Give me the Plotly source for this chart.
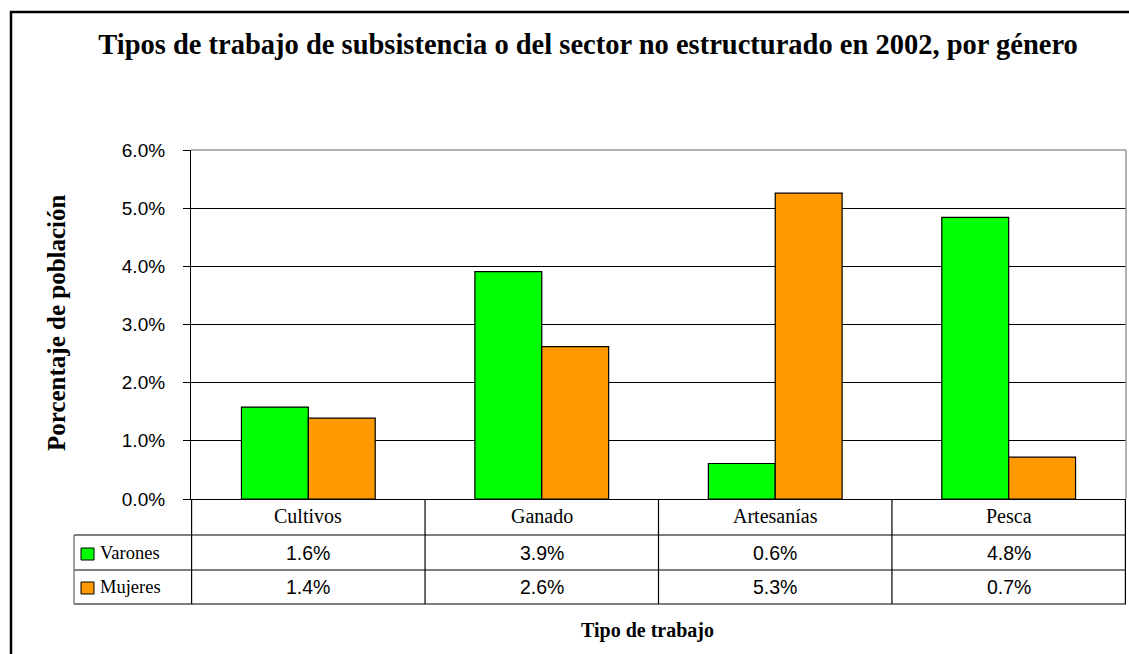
import plotly.graph_objects as go

# data
categories = ["Cultivos", "Ganado", "Artesanías", "Pesca"]
series_names = ["Varones", "Mujeres"]
varones = [0.0158, 0.0391, 0.0061, 0.0484]
mujeres = [0.0139, 0.0262, 0.0526, 0.0072]
series_colors = ["#00FF00", "#FF9900"]
y_ticks = [0.0, 0.01, 0.02, 0.03, 0.04, 0.05, 0.06]

title_text = "Tipos de trabajo de subsistencia o del sector no estructurado en 2002, por género"
x_title = "Tipo de trabajo"
y_title = "Porcentaje de población"

SERIF = "Liberation Serif, Times New Roman, serif"
SANS = "Liberation Sans, Arial, sans-serif"

W, H = 1129, 654
PLOT_L, PLOT_R, PLOT_T, PLOT_B = 191, 1126, 150, 499  # pixels in the window
L, T = PLOT_L, PLOT_T
R = W - PLOT_R
B = H - PLOT_B
PW = PLOT_R - PLOT_L
PH = PLOT_B - PLOT_T


def px_x(px):
    return (px - PLOT_L) / PW


def px_y(py):
    return (PLOT_B - py) / PH


fig = go.Figure()

for name, vals, color in zip(series_names, [varones, mujeres], series_colors):
    fig.add_trace(
        go.Bar(
            x=categories,
            y=vals,
            name=name,
            marker=dict(color=color, line=dict(color="black", width=1.2)),
            hovertemplate="%{x}<br>" + name + ": %{y:.1%}<extra></extra>",
        )
    )

shapes = []
annotations = []
line_k = dict(color="black", width=1.2)

# table grid below the plot
row1, row2, table_bot = 535, 570, 604
left_px = 74
for py in [row1, row2, table_bot]:
    shapes.append(dict(type="line", xref="paper", yref="paper",
                       x0=px_x(left_px), x1=1, y0=px_y(py), y1=px_y(py), line=line_k))
for i in range(len(categories) + 1):
    shapes.append(dict(type="line", xref="x", yref="paper",
                       x0=i - 0.5, x1=i - 0.5, y0=0, y1=px_y(table_bot), line=line_k))
shapes.append(dict(type="line", xref="paper", yref="paper",
                   x0=px_x(left_px), x1=px_x(left_px), y0=px_y(row1), y1=px_y(table_bot),
                   line=dict(color="#808080", width=1.5)))

# grey top and right plot borders
shapes.append(dict(type="line", xref="paper", yref="paper", x0=0, x1=1, y0=1, y1=1,
                   line=dict(color="#999999", width=1.5)))
shapes.append(dict(type="line", xref="paper", yref="paper", x0=1, x1=1, y0=0, y1=1,
                   line=dict(color="#999999", width=1.5)))

# outer chart border
shapes.append(dict(type="rect", xref="paper", yref="paper",
                   x0=px_x(11), x1=px_x(1145), y0=px_y(12), y1=px_y(720),
                   line=dict(color="black", width=2.5), fillcolor="rgba(0,0,0,0)"))

# category labels row
for cat in categories:
    annotations.append(dict(x=cat, xref="x", y=px_y(516), yref="paper", text=cat,
                            showarrow=False, xanchor="center", yanchor="middle",
                            font=dict(family=SERIF, size=20, color="black")))

# value rows with legend keys
row_centers = [553, 587]
for name, vals, color, cy in zip(series_names, [varones, mujeres], series_colors, row_centers):
    shapes.append(dict(type="rect", xref="paper", yref="paper",
                       x0=px_x(81), x1=px_x(94), y0=px_y(cy + 7), y1=px_y(cy - 5),
                       fillcolor=color, line=dict(color="black", width=1)))
    annotations.append(dict(x=px_x(98), xref="paper", y=px_y(cy), yref="paper", text=name,
                            showarrow=False, xanchor="left", yanchor="middle",
                            font=dict(family=SERIF, size=18.5, color="black")))
    for cat, v in zip(categories, vals):
        annotations.append(dict(x=cat, xref="x", y=px_y(cy), yref="paper", text=f"{v:.1%}",
                                showarrow=False, xanchor="center", yanchor="middle",
                                font=dict(family=SANS, size=19.5, color="black")))

# axis titles
annotations.append(dict(x=px_x(647), xref="paper", y=px_y(630), yref="paper", text=f"<b>{x_title}</b>",
                        showarrow=False, xanchor="center", yanchor="middle",
                        font=dict(family=SERIF, size=20, color="black")))
annotations.append(dict(x=px_x(56), xref="paper", y=px_y(323), yref="paper", text=f"<b>{y_title}</b>",
                        showarrow=False, textangle=-90, xanchor="center", yanchor="middle",
                        font=dict(family=SERIF, size=25, color="black")))

fig.update_layout(
    width=W,
    height=H,
    margin=dict(l=L, r=R, t=T, b=B),
    paper_bgcolor="white",
    plot_bgcolor="white",
    barmode="group",
    bargap=0.427,
    bargroupgap=0,
    showlegend=False,
    title=dict(
        text=f"<b>{title_text}</b>",
        x=588 / W,
        xanchor="center",
        y=1 - 44 / H,
        yanchor="middle",
        font=dict(family=SERIF, size=28.5, color="black"),
    ),
    xaxis=dict(
        showticklabels=False,
        ticks="",
        showgrid=False,
        showline=True,
        linecolor="black",
        linewidth=1.2,
        zeroline=False,
    ),
    yaxis=dict(
        range=[0, 0.06],
        tickvals=y_ticks,
        tickformat=".1%",
        ticks="outside",
        ticklen=7,
        tickcolor="black",
        tickwidth=1.2,
        showline=True,
        linecolor="black",
        linewidth=1.2,
        showgrid=True,
        gridcolor="black",
        gridwidth=1,
        zeroline=False,
        tickfont=dict(family=SANS, size=19, color="black"),
        ticklabelstandoff=14,
    ),
    shapes=shapes,
    annotations=annotations,
)

# drop the default page margin so the figure fills the window exactly
fig.write_html(
    "out.html",
    config={"displayModeBar": False},
    post_script="document.body.style.margin='0';document.body.style.overflow='hidden';",
)
